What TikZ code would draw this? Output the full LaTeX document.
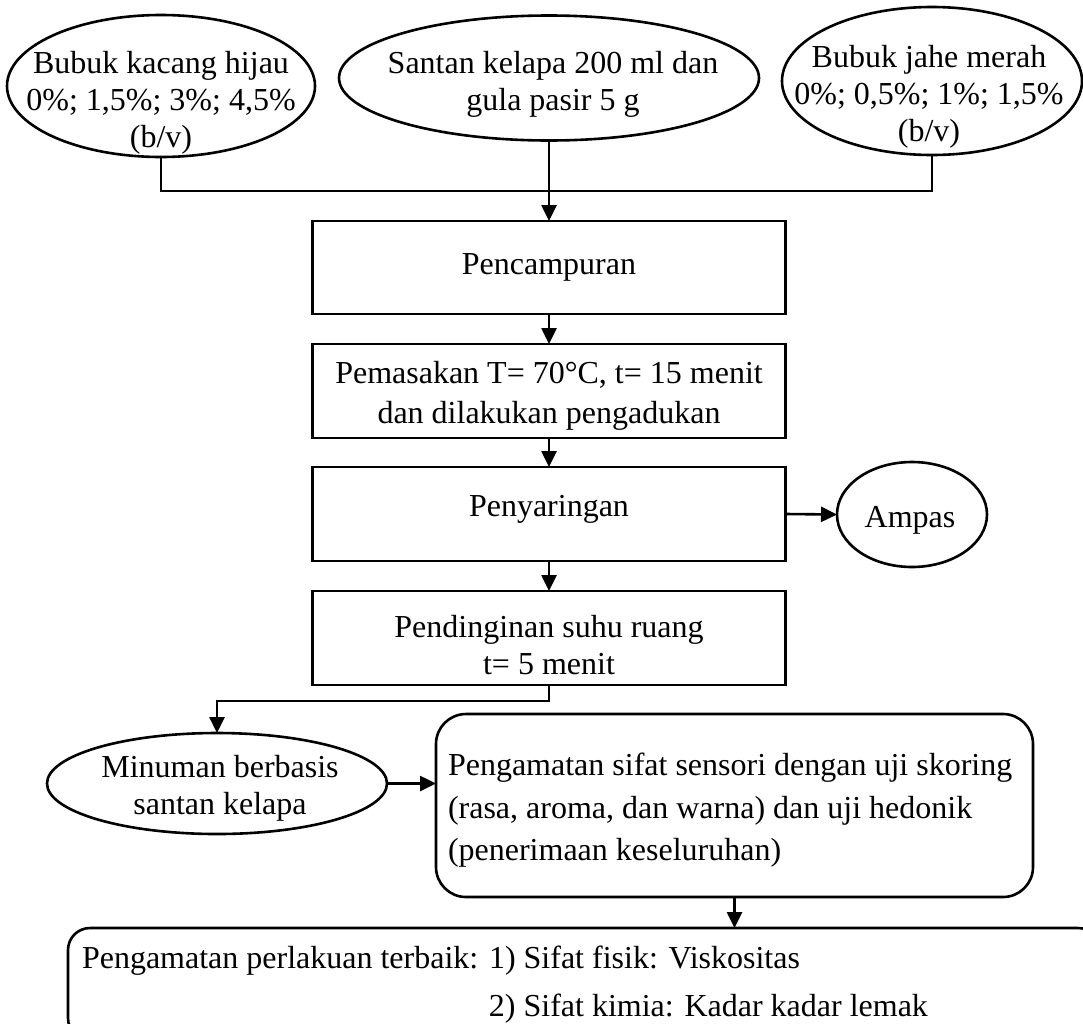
\documentclass[tikz,border=0pt]{standalone}
\usepackage{fontspec}
\setmainfont{Liberation Serif}
\usetikzlibrary{shapes.geometric,arrows.meta,calc}
\begin{document}
\begin{tikzpicture}[x=1pt,y={(0pt,-1pt)},
  line width=2.6pt,
  every node/.style={font=\fontsize{32pt}{37pt}\selectfont, inner sep=0pt, outer sep=0pt},
  oval/.style={draw, ellipse},
  procbox/.style={draw, rectangle, minimum width=473pt, minimum height=94pt},
  roundbox/.style={draw, rectangle, rounded corners=#1},
  arr/.style={-{Triangle[width=15pt,length=16pt]}},
  txt/.style={align=center},
  ltxt/.style={align=left, anchor=west}
]
\useasboundingbox (0,0) rectangle (1083,1023);
\clip (0,0) rectangle (1083,1023);
\fill[white] (0,0) rectangle (1083,1023);

% input ellipses
\node[oval, minimum width=308pt, minimum height=142pt] (K) at (161,86) {};
\node[txt] (Kt) at (161,103) {Bubuk kacang hijau\\0\%; 1,5\%; 3\%; 4,5\%\\(b/v)};

\node[oval, minimum width=420pt, minimum height=125pt] (S) at (549,78) {};
\node[txt] (St) at (553,84) {Santan kelapa 200 ml dan\\gula pasir 5 g};

\node[oval, minimum width=300pt, minimum height=148pt] (J) at (932,81) {};
\node[txt] (Jt) at (929,97) {Bubuk jahe merah\\0\%; 0,5\%; 1\%; 1,5\%\\(b/v)};

% process boxes
\node[procbox, minimum height=93pt] (P1) at (549,267.5) {};
\node (P1t) at (549,267) {Pencampuran};

\node[procbox] (P2) at (549,391) {};
\node[txt, font=\fontsize{32pt}{40pt}\selectfont] (P2t) at (549,396) {Pemasakan T= 70°C, t= 15 menit\\dan dilakukan pengadukan};

\node[procbox] (P3) at (549,514) {};
\node (P3t) at (549,509.5) {Penyaringan};

\node[procbox] (P4) at (549,638) {};
\node[txt] (P4t) at (549,645) {Pendinginan suhu ruang\\t= 5 menit};

\node[oval, minimum width=150pt, minimum height=105pt] (A) at (912,514.5) {};
\node (At) at (910,520) {Ampas};

\node[oval, minimum width=340pt, minimum height=101pt] (M) at (217,783.5) {};
\node[txt] (Mt) at (220,788) {Minuman berbasis\\santan kelapa};

\node[roundbox=30pt, minimum width=597pt, minimum height=183pt] (SN) at (734.5,805.5) {};
\node[ltxt, font=\fontsize{32pt}{42.5pt}\selectfont] (SNt) at (448,810.5) {Pengamatan sifat sensori dengan uji skoring\\(rasa, aroma, dan warna) dan uji hedonik\\(penerimaan keseluruhan)};

\node[roundbox=22pt, minimum width=1032pt, minimum height=112pt] (F) at (584,984) {};
\node[ltxt, font=\fontsize{32pt}{48pt}\selectfont] (Ft) at (82,985) {Pengamatan perlakuan terbaik: 1) Sifat fisik: Viskositas\\\phantom{Pengamatan perlakuan terbaik: }2) Sifat kimia: Kadar kadar lemak};

% connectors
\coordinate (bus) at (549,191);
\draw (K.south) -- (K.south |- bus) -- (J.south |- bus) -- (J.south);
\draw[arr] (S.south) -- (P1.north);
\draw[arr] (P1.south) -- (P2.north);
\draw[arr] (P2.south) -- (P3.north);
\draw[arr] (P3.south) -- (P4.north);
\draw[arr] (P3.east) -- (A.west);
\coordinate (elb) at (0,701);
\draw[arr] (P4.south) -- (P4.south |- elb) -- (M.north |- elb) -- (M.north);
\draw[arr] (M.east) -- (M.east -| SN.west);
\draw[arr] (SN.south) -- (SN.south |- F.north);
\end{tikzpicture}
\end{document}
